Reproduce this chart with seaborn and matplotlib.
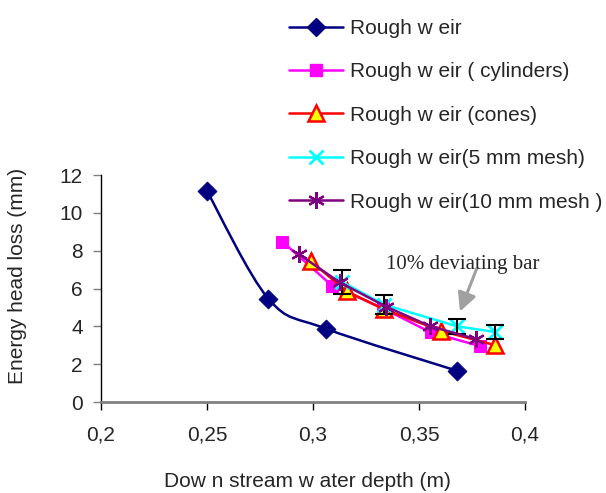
import numpy as np
import matplotlib
matplotlib.use("Agg")
import matplotlib.pyplot as plt
import seaborn as sns
from matplotlib.path import Path
from matplotlib.patches import PathPatch
from matplotlib.lines import Line2D

# ---------------- data ----------------
rough_x = [0.25, 0.279, 0.306, 0.368]
rough_y = [11.15, 5.45, 3.88, 1.65]

cyl_x = [0.2855, 0.309, 0.333, 0.3555, 0.379]
cyl_y = [8.48, 6.15, 4.95, 3.68, 2.95]

cones_x = [0.299, 0.316, 0.3335, 0.3605, 0.386]
cones_y = [7.43, 5.85, 4.9, 3.76, 3.0]

mesh5_x = [0.3135, 0.3335, 0.368, 0.386]
mesh5_y = [6.36, 5.15, 4.0, 3.7]

mesh10_x = [0.2935, 0.3125, 0.3345, 0.355, 0.377]
mesh10_y = [7.8, 6.33, 5.04, 4.02, 3.32]

deviation = 0.10  # 10% deviating bar on the 5 mm mesh series

series_labels = [
    "Rough w eir",
    "Rough w eir ( cylinders)",
    "Rough w eir (cones)",
    "Rough w eir(5 mm mesh)",
    "Rough w eir(10 mm mesh )",
]
xticks = [0.2, 0.25, 0.3, 0.35, 0.4]
xtick_labels = ["0,2", "0,25", "0,3", "0,35", "0,4"]
yticks = [0, 2, 4, 6, 8, 10, 12]
xlabel = "Dow n stream w ater depth (m)"
ylabel = "Energy head loss (mm)"
note = "10% deviating bar"

# ---------------- style ----------------
sns.set_theme(style="ticks")
plt.rcParams["font.family"] = ["Liberation Sans", "DejaVu Sans"]
FS = 15

fig = plt.figure(figsize=(6.06, 4.93), dpi=100)
W, H = 606, 493
ax = fig.add_axes([101 / W, 1 - 402 / H, 424 / W, 227 / H])
ax.set_xlim(0.2, 0.4)
ax.set_ylim(0, 12)

NAVY, PINK, RED, YEL, CYAN, PURP = "#000080", "#FF00FF", "#FF0000", "#FFFF00", "#00FFFF", "#800080"
LW = 1.8

# Rough weir: smoothed line (Excel-style) through the points
pts = ax.transData.transform(np.column_stack([rough_x, rough_y]))
n = len(pts)
verts = [pts[0]]
codes = [Path.MOVETO]
for i in range(n - 1):
    p0 = pts[i - 1] if i > 0 else pts[i]
    p1 = pts[i]
    p2 = pts[i + 1]
    p3 = pts[i + 2] if i + 2 < n else pts[i + 1]
    c1 = p1 + (p2 - p0) / 6.0
    c2 = p2 - (p3 - p1) / 6.0
    verts += [c1, c2, p2]
    codes += [Path.CURVE4] * 3
verts_data = ax.transData.inverted().transform(np.array(verts))
ax.add_patch(PathPatch(Path(verts_data, codes), facecolor="none", edgecolor=NAVY, lw=LW, zorder=2))
sns.scatterplot(x=rough_x, y=rough_y, ax=ax, marker="D", s=95, color=NAVY,
                edgecolor=NAVY, linewidth=0.5, zorder=3, legend=False)

sns.lineplot(x=cyl_x, y=cyl_y, ax=ax, sort=False, color=PINK, lw=LW, marker="s",
             markersize=9, markerfacecolor=PINK, markeredgecolor=PINK, zorder=3, legend=False)
sns.lineplot(x=cones_x, y=cones_y, ax=ax, sort=False, color=RED, lw=LW, marker="^",
             markersize=11, markerfacecolor=YEL, markeredgecolor=RED, markeredgewidth=1.8,
             zorder=4, legend=False)
sns.lineplot(x=mesh5_x, y=mesh5_y, ax=ax, sort=False, color=CYAN, lw=LW, marker="x",
             markersize=10, markeredgecolor=CYAN, markeredgewidth=2, zorder=5, legend=False)
ax.errorbar(mesh5_x, mesh5_y, yerr=[deviation * v for v in mesh5_y], fmt="none",
            ecolor="black", elinewidth=1.5, capsize=6.5, capthick=1.5, zorder=6)
sns.lineplot(x=mesh10_x, y=mesh10_y, ax=ax, sort=False, color=PURP, lw=LW, marker=(6, 2, 0),
             markersize=12, markeredgecolor=PURP, markeredgewidth=1.6, zorder=7, legend=False)

# annotation
ax.annotate("", xy=(0.3693, 4.78), xytext=(0.3772, 7.05),
            arrowprops=dict(arrowstyle="-|>", color="#A0A0A0", lw=2.2, mutation_scale=28,
                            shrinkA=0, shrinkB=0), zorder=8)
ax.text(0.3342, 7.25, note, fontsize=FS, family=["Liberation Serif", "DejaVu Serif"],
        ha="left", va="center", zorder=9)

# axes styling
ax.set_xticks(xticks)
ax.set_xticklabels(xtick_labels)
ax.set_yticks(yticks)
ax.tick_params(axis="both", labelsize=FS, length=6, width=1, direction="out")
ax.tick_params(axis="x", pad=11, color="black")
ax.tick_params(axis="y", pad=7, color="#808080")
for s in ["top", "right"]:
    ax.spines[s].set_visible(False)
ax.spines["bottom"].set_color("#808080")
ax.spines["bottom"].set_linewidth(2)
ax.spines["left"].set_color("black")
ax.spines["left"].set_linewidth(1)
ax.grid(False)

ax.set_xlabel(xlabel, fontsize=FS, va="top")
ax.xaxis.set_label_coords(0.486, -0.31)
ax.set_ylabel(ylabel, fontsize=FS, va="center")
ax.yaxis.set_label_coords(-0.196, 0.555)

# legend
handles = [
    Line2D([0], [0], color=NAVY, lw=LW, marker="D", markersize=9, markerfacecolor=NAVY, markeredgecolor=NAVY),
    Line2D([0], [0], color=PINK, lw=LW, marker="s", markersize=9, markerfacecolor=PINK, markeredgecolor=PINK),
    Line2D([0], [0], color=RED, lw=LW, marker="^", markersize=11, markerfacecolor=YEL, markeredgecolor=RED, markeredgewidth=1.8),
    Line2D([0], [0], color=CYAN, lw=LW, marker="x", markersize=10, markeredgecolor=CYAN, markeredgewidth=2),
    Line2D([0], [0], color=PURP, lw=LW, marker=(6, 2, 0), markersize=12, markeredgecolor=PURP, markeredgewidth=1.6),
]
fig.legend(handles, series_labels, loc="upper left", bbox_to_anchor=(289 / W, 1 - 19 / H),
           frameon=False, fontsize=FS, handlelength=2.6, handletextpad=0.34,
           labelspacing=1.17, borderpad=0, borderaxespad=0)

fig.savefig("out.png", dpi=100)
